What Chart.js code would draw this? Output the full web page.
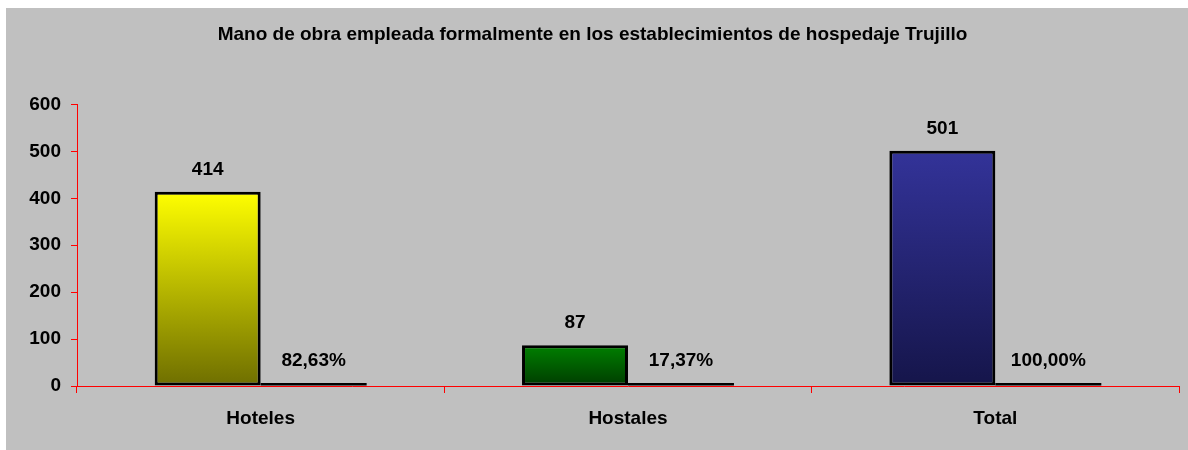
<!DOCTYPE html>
<html>
<head>
<meta charset="utf-8">
<script src="https://cdn.jsdelivr.net/npm/chart.js@4.4.1/dist/chart.umd.min.js"></script>
<style>
  html, body { margin: 0; padding: 0; background: #ffffff; }
  #wrap { position: absolute; left: 6px; top: 8px; width: 1182px; height: 442px; background: #c0c0c0; }
  canvas { display: block; }
</style>
</head>
<body>
<div id="wrap"><canvas id="c" width="1182" height="442"></canvas></div>
<script>
const categories = ['Hoteles', 'Hostales', 'Total'];
const counts = [414, 87, 501];
const shares = [0.8263, 0.1737, 1.0];
const yTicks = [0, 100, 200, 300, 400, 500, 600];
const titleText = 'Mano de obra empleada formalmente en los establecimientos de hospedaje Trujillo';

const gradTop = ['#ffff00', '#008000', '#333399'];
const gradBottom = ['#6e6e00', '#003c00', '#15154a'];

const FONT = 'Arial, "Liberation Sans", sans-serif';
const FS = 19;

function barGradient(ctx) {
  const chart = ctx.chart;
  if (!chart.chartArea) return gradTop[ctx.dataIndex];
  const y = chart.scales.y;
  const top = y.getPixelForValue(counts[ctx.dataIndex]);
  const bottom = y.getPixelForValue(0);
  const g = chart.ctx.createLinearGradient(0, top, 0, bottom);
  g.addColorStop(0, gradTop[ctx.dataIndex]);
  g.addColorStop(1, gradBottom[ctx.dataIndex]);
  return g;
}

const labelPlugin = {
  id: 'valueLabels',
  afterDatasetsDraw(chart) {
    const c = chart.ctx;
    c.save();
    c.font = 'bold ' + FS + 'px ' + FONT;
    c.fillStyle = '#000';
    c.textAlign = 'center';
    c.textBaseline = 'middle';
    chart.data.datasets.forEach((ds, di) => {
      const meta = chart.getDatasetMeta(di);
      meta.data.forEach((bar, i) => {
        let txt;
        if (di === 0) txt = String(counts[i]);
        else txt = (shares[i] * 100).toFixed(2).replace('.', ',') + '%';
        c.fillText(txt, bar.x, Math.min(bar.y, bar.base - 3) - 22);
      });
    });
    c.restore();
  }
};

new Chart(document.getElementById('c'), {
  type: 'bar',
  data: {
    labels: categories,
    datasets: [
      {
        data: counts,
        backgroundColor: barGradient,
        borderColor: '#000',
        borderWidth: 3,
        borderSkipped: false,
        categoryPercentage: 0.577,
        barPercentage: 1
      },
      {
        data: shares,
        backgroundColor: '#000',
        borderWidth: 0,
        minBarLength: 3,
        categoryPercentage: 0.577,
        barPercentage: 1
      }
    ]
  },
  options: {
    responsive: false,
    animation: false,
    events: [],
    layout: { padding: { left: 0, right: 9, top: 0, bottom: 14 } },
    plugins: {
      legend: { display: false },
      tooltip: { enabled: false },
      title: {
        display: true,
        text: titleText,
        color: '#000',
        font: { family: FONT, size: FS, weight: 'bold', lineHeight: 1.2 },
        padding: { top: 15.6, bottom: 58 }
      }
    },
    scales: {
      x: {
        grid: { drawOnChartArea: false, drawTicks: true, tickLength: 7, color: '#ff0000', offset: true },
        border: { display: true, color: '#ff0000', width: 1 },
        ticks: { color: '#000', font: { family: FONT, size: FS, weight: 'bold' }, padding: 14, maxRotation: 0 },
        afterFit(s) { s.height = 50; }
      },
      y: {
        min: 0,
        max: 600,
        afterBuildTicks(s) { s.ticks = yTicks.map(v => ({ value: v })); },
        grid: { drawOnChartArea: false, drawTicks: true, tickLength: 6, color: '#ff0000' },
        border: { display: true, color: '#ff0000', width: 1 },
        ticks: { color: '#000', font: { family: FONT, size: FS, weight: 'bold' }, padding: 10 },
        afterFit(s) { s.width = 71; }
      }
    }
  },
  plugins: [labelPlugin]
});
</script>
</body>
</html>
